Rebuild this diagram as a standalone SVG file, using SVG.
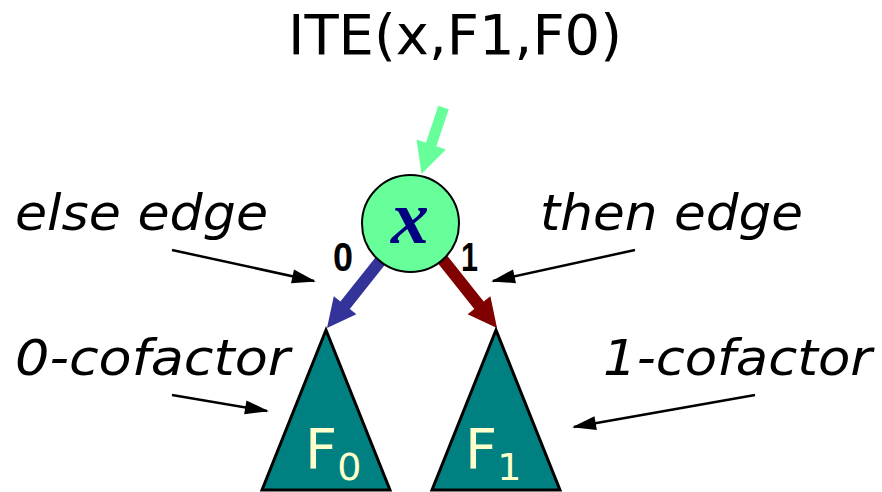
<svg xmlns="http://www.w3.org/2000/svg" width="882" height="492" viewBox="0 0 882 492">
<style>
.lbl{font-family:"DejaVu Sans",Verdana,sans-serif;font-style:italic;font-size:50px;fill:#000}
.ptr{stroke:#000;stroke-width:2.5;fill:none}
.tri{fill:#008080;stroke:#000;stroke-width:3;stroke-linejoin:miter}
.ftxt{font-family:"DejaVu Sans",Verdana,sans-serif;fill:#FFFFCC}
.bit{font-family:"Liberation Sans",Arial,sans-serif;font-weight:bold;font-size:41px;fill:#000}
</style>
<defs>
<marker id="ah" viewBox="0 0 24 14" refX="22" refY="7" markerWidth="24" markerHeight="14" markerUnits="userSpaceOnUse" orient="auto" overflow="visible">
<path d="M0,0 L24,7 L0,14 z" fill="#000"/>
</marker>
</defs>
<rect width="882" height="492" fill="#fff"/>
<text id="title" x="455" y="54" text-anchor="middle" font-family="DejaVu Sans,Verdana,sans-serif" font-size="56">ITE(x,F1,F0)</text>
<g id="connectors">
<polygon id="in-edge" fill="#66FF99" points="448.7,109.2 436.4,146.2 445.9,149.4 421.5,174 416.5,139.6 426,142.8 438.3,105.8"/>
<polygon id="else-edge" fill="#333399" points="387.7,261.3 349.8,309 356.4,314.3 327,328 333.8,296.3 340.4,301.6 378.3,253.9"/>
<polygon id="then-edge" fill="#800000" points="436.3,261.2 474.3,309 467.6,314.3 497,328 490.4,296.3 483.7,301.6 445.7,253.8"/>
<line class="ptr" x1="172" y1="250" x2="314" y2="281" marker-end="url(#ah)"/>
<line class="ptr" x1="635" y1="250" x2="493" y2="281" marker-end="url(#ah)"/>
<line class="ptr" x1="172" y1="395" x2="267" y2="411" marker-end="url(#ah)"/>
<line class="ptr" x1="755" y1="395" x2="574" y2="427" marker-end="url(#ah)"/>
</g>
<g id="node-x">
<circle cx="410.5" cy="223.5" r="48.5" fill="#66FF99" stroke="#000" stroke-width="2"/>
<text x="410" y="243" text-anchor="middle" font-family="Liberation Serif,Times New Roman,serif" font-style="italic" font-weight="bold" font-size="76" fill="#000080">x</text>
</g>
<text class="bit" x="333" y="271" textLength="20" lengthAdjust="spacingAndGlyphs">0</text>
<text class="bit" x="461" y="271" textLength="17" lengthAdjust="spacingAndGlyphs">1</text>
<g id="node-F0">
<polygon class="tri" points="326,330 262,490 390,490"/>
<text class="ftxt" x="305" y="468" font-size="56">F<tspan font-size="38" dy="12">0</tspan></text>
</g>
<g id="node-F1">
<polygon class="tri" points="496,330 432,490 560,490"/>
<text class="ftxt" x="465" y="468" font-size="56">F<tspan font-size="38" dy="12">1</tspan></text>
</g>
<text class="lbl" x="15" y="230" textLength="253" lengthAdjust="spacingAndGlyphs">else edge</text>
<text class="lbl" x="540" y="230" textLength="263" lengthAdjust="spacingAndGlyphs">then edge</text>
<text class="lbl" x="15" y="375" textLength="275" lengthAdjust="spacingAndGlyphs">0-cofactor</text>
<text class="lbl" x="603" y="375" textLength="269" lengthAdjust="spacingAndGlyphs">1-cofactor</text>
</svg>
